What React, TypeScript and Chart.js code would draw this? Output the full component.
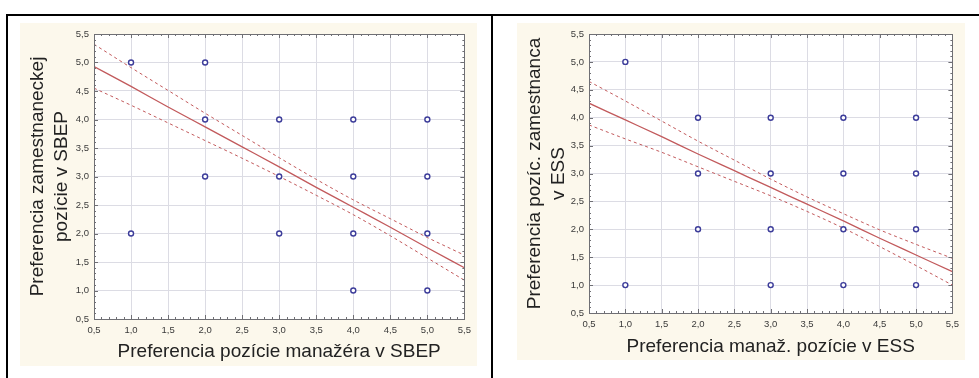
import { useEffect, useRef } from 'react';
import { Chart, registerables } from 'chart.js';

Chart.register(...registerables);

// Axis range shared by both scatter plots
const axisMin = 0.5;
const axisMax = 5.5;
const axisStep = 0.5;
const minorStep = 0.1;

// x positions at which the fitted line and its confidence band are sampled
const fitX = [0.5, 1.0, 1.5, 2.0, 2.5, 3.0, 3.5, 4.0, 4.5, 5.0, 5.5];

// SBEP: manager-position preference vs. employee-position preference
const sbepX = [1, 2, 1, 2, 2, 3, 3, 3, 4, 4, 4, 4, 5, 5, 5, 5];
const sbepY = [5, 5, 2, 4, 3, 4, 3, 2, 4, 3, 2, 1, 4, 3, 2, 1];
const sbepFit = [4.93, 4.58, 4.22, 3.87, 3.52, 3.17, 2.81, 2.46, 2.11, 1.75, 1.4];
const sbepUpper = [5.32, 4.91, 4.51, 4.11, 3.72, 3.33, 2.95, 2.59, 2.26, 1.93, 1.62];
const sbepLower = [4.55, 4.25, 3.94, 3.63, 3.32, 3.0, 2.67, 2.33, 1.96, 1.57, 1.18];

// ESS: manager-position preference vs. employee-position preference
const essX = [1, 1, 2, 2, 2, 3, 3, 3, 3, 4, 4, 4, 4, 5, 5, 5, 5];
const essY = [5, 1, 4, 3, 2, 4, 3, 2, 1, 4, 3, 2, 1, 4, 3, 2, 1];
const essFit = [4.26, 3.96, 3.66, 3.35, 3.05, 2.75, 2.45, 2.15, 1.84, 1.54, 1.24];
const essUpper = [4.65, 4.3, 3.94, 3.58, 3.24, 2.9, 2.58, 2.28, 1.99, 1.73, 1.48];
const essLower = [3.87, 3.62, 3.38, 3.12, 2.86, 2.6, 2.32, 2.02, 1.69, 1.35, 1.0];

const FONT = 'Arial, "Liberation Sans", sans-serif';
const FIT_COLOR = '#c25a5c';
const POINT_COLOR = '#3d3d9a';
const GRID_COLOR = '#dcdce4';
const FRAME_COLOR = '#6f6f74';
const PANEL_BG = '#fcf8ec';

const pairs = (xs: number[], ys: number[]) => xs.map((x, i) => ({ x, y: ys[i] }));
const fmt = (v: number) => v.toFixed(1).replace('.', ',');

// White plot background plus a framed border with inward major/minor tick marks
const framePlugin = {
  id: 'statFrame',
  beforeDraw(chart: any) {
    const { ctx, chartArea: a } = chart;
    ctx.save();
    ctx.fillStyle = '#ffffff';
    ctx.fillRect(a.left, a.top, a.right - a.left, a.bottom - a.top);
    ctx.restore();
  },
  afterDatasetsDraw(chart: any) {
    const { ctx, chartArea: a, scales } = chart;
    ctx.save();
    ctx.strokeStyle = FRAME_COLOR;
    ctx.lineWidth = 1;
    ctx.beginPath();
    const n = Math.round((axisMax - axisMin) / minorStep);
    for (let i = 0; i <= n; i++) {
      const v = axisMin + i * minorStep;
      const major = i % Math.round(axisStep / minorStep) === 0;
      const len = major ? 4 : 2;
      const px = Math.round(scales.x.getPixelForValue(v)) + 0.5;
      ctx.moveTo(px, a.bottom);
      ctx.lineTo(px, a.bottom - len);
      ctx.moveTo(px, a.top);
      ctx.lineTo(px, a.top + len);
      const py = Math.round(scales.y.getPixelForValue(v)) + 0.5;
      ctx.moveTo(a.left, py);
      ctx.lineTo(a.left + len, py);
      ctx.moveTo(a.right, py);
      ctx.lineTo(a.right - len, py);
    }
    ctx.stroke();
    ctx.strokeRect(
      Math.round(a.left) + 0.5,
      Math.round(a.top) + 0.5,
      Math.round(a.right - a.left),
      Math.round(a.bottom - a.top)
    );
    ctx.restore();
  },
};

type PanelProps = {
  left: number;
  top: number;
  width: number;
  height: number;
  yAxisWidth: number;
  xAxisHeight: number;
  xTitle: string;
  yTitle: string[];
  xTitlePad: number;
  px: number[];
  py: number[];
  fit: number[];
  upper: number[];
  lower: number[];
};

function ScatterPanel(p: PanelProps) {
  const ref = useRef<HTMLCanvasElement | null>(null);

  useEffect(() => {
    if (!ref.current) return;
    const lineDs = (data: number[], dashed: boolean) => ({
      type: 'line' as const,
      data: pairs(fitX, data),
      borderColor: FIT_COLOR,
      borderWidth: dashed ? 1 : 1.3,
      borderDash: dashed ? [3, 3] : [],
      pointRadius: 0,
      cubicInterpolationMode: 'monotone' as const,
      fill: false,
      order: 1,
    });
    const tickFont = { family: FONT, size: 9.5 };
    const titleFont = { family: FONT, size: 19, lineHeight: 1.3 };
    const chart = new Chart(ref.current, {
      type: 'scatter',
      data: {
        datasets: [
          {
            type: 'scatter',
            data: pairs(p.px, p.py),
            pointRadius: 2.5,
            pointBorderWidth: 1.4,
            borderColor: POINT_COLOR,
            backgroundColor: '#ffffff',
            order: 0,
          } as any,
          lineDs(p.fit, false),
          lineDs(p.upper, true),
          lineDs(p.lower, true),
        ],
      },
      options: {
        animation: false,
        responsive: false,
        layout: { padding: { left: 0, top: 11, right: 11, bottom: 0 } },
        plugins: { legend: { display: false }, tooltip: { enabled: false } },
        scales: {
          x: {
            type: 'linear',
            min: axisMin,
            max: axisMax,
            border: { display: false },
            grid: { color: GRID_COLOR, drawTicks: false, lineWidth: 1 },
            ticks: {
              stepSize: axisStep,
              padding: 6,
              color: '#3a3a3a',
              font: tickFont,
              callback: (v: any) => fmt(Number(v)),
            },
            title: {
              display: true,
              text: p.xTitle,
              color: '#222222',
              font: titleFont,
              padding: { top: 0, bottom: p.xTitlePad },
            },
            afterFit: (s: any) => {
              s.height = p.xAxisHeight;
            },
          },
          y: {
            type: 'linear',
            min: axisMin,
            max: axisMax,
            border: { display: false },
            grid: { color: GRID_COLOR, drawTicks: false, lineWidth: 1 },
            ticks: {
              stepSize: axisStep,
              padding: 5,
              color: '#3a3a3a',
              font: tickFont,
              callback: (v: any) => fmt(Number(v)),
            },
            title: {
              display: true,
              text: p.yTitle,
              color: '#222222',
              font: titleFont,
              padding: { top: 5, bottom: 0 },
            },
            afterFit: (s: any) => {
              s.width = p.yAxisWidth;
            },
          },
        },
      },
      plugins: [framePlugin],
    } as any);
    return () => chart.destroy();
  }, []);

  return (
    <div
      style={{
        position: 'absolute',
        left: p.left,
        top: p.top,
        width: p.width,
        height: p.height,
        background: PANEL_BG,
      }}
    >
      <canvas ref={ref} width={p.width} height={p.height} style={{ display: 'block' }} />
    </div>
  );
}

export default function App() {
  const rule = (l: number, t: number, w: number, h: number) => (
    <div style={{ position: 'absolute', left: l, top: t, width: w, height: h, background: '#000' }} />
  );
  return (
    <div
      style={{
        position: 'absolute',
        left: 0,
        top: 0,
        width: 979,
        height: 378,
        overflow: 'hidden',
        background: '#ffffff',
      }}
    >
      {rule(6, 14, 980, 2)}
      {rule(6, 14, 2, 370)}
      {rule(491, 14, 2, 370)}
      <ScatterPanel
        left={20}
        top={23}
        width={457}
        height={343}
        yAxisWidth={74}
        xAxisHeight={47}
        xTitle="Preferencia pozície manažéra v SBEP"
        yTitle={['Preferencia zamestnaneckej', 'pozície v SBEP']}
        xTitlePad={2}
        px={sbepX}
        py={sbepY}
        fit={sbepFit}
        upper={sbepUpper}
        lower={sbepLower}
      />
      <ScatterPanel
        left={517}
        top={23}
        width={448}
        height={337}
        yAxisWidth={72}
        xAxisHeight={47}
        xTitle="Preferencia manaž. pozície v ESS"
        yTitle={['Preferencia pozíc. zamestnanca', 'v ESS']}
        xTitlePad={1}
        px={essX}
        py={essY}
        fit={essFit}
        upper={essUpper}
        lower={essLower}
      />
    </div>
  );
}
